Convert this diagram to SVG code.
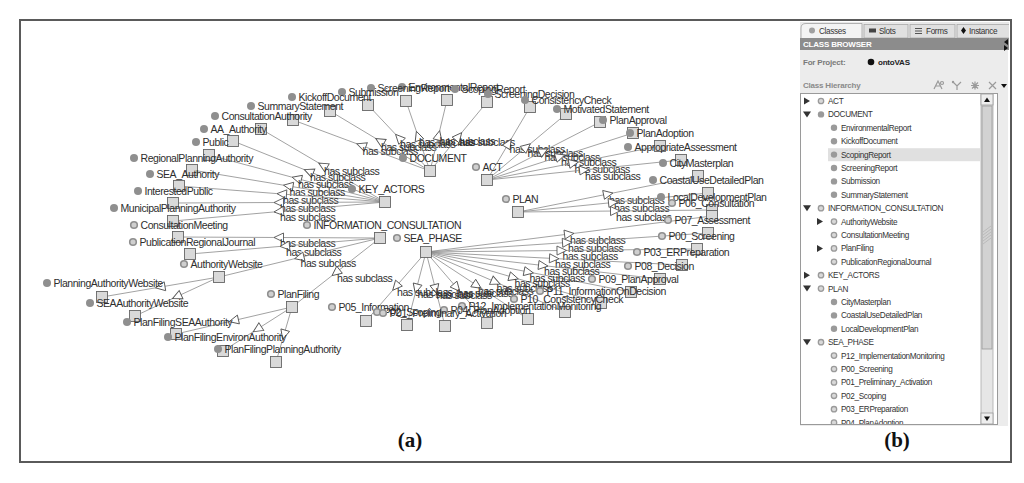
<svg xmlns="http://www.w3.org/2000/svg" width="1024" height="483" viewBox="0 0 1024 483">
<style>
.e{stroke:#8a8a8a;stroke-width:0.8;fill:none;marker-mid:url(#tri)}
.el,.nt{font-family:"Liberation Sans",Arial,sans-serif;font-size:10.5px;letter-spacing:-0.45px;fill:#2e2e2e}
.sq{fill:#d9d9d9;stroke:#666;stroke-width:0.9}
.df{fill:#8f8f8f}
.dr{fill:#cfcfcf;stroke:#8f8f8f;stroke-width:1.6}
.pt{font-family:"Liberation Sans",Arial,sans-serif;font-size:8.2px;letter-spacing:-0.35px;fill:#333}
.pb{font-family:"Liberation Sans",Arial,sans-serif;font-size:8px;font-weight:bold;letter-spacing:-0.2px}
.pf{fill:#9a9a9a}
.pr{fill:#d8d8d8;stroke:#9a9a9a;stroke-width:1.3}
.tr{fill:#333}
.ic{stroke:#9a9a9a;stroke-width:1.2;fill:none}
.tab{fill:#e0e0e0;stroke:#a8a8a8;stroke-width:0.8}
.cap{font-family:"Liberation Serif","Times New Roman",serif;font-size:21px;font-weight:bold;fill:#111;text-anchor:middle}
</style>
<defs>
<marker id="tri" markerUnits="userSpaceOnUse" markerWidth="14" markerHeight="14" viewBox="-7 -7 14 14" refX="0" refY="0" orient="auto"><path d="M5,0 L-4.5,-4.5 L-4.5,4.5 Z" fill="#fff" stroke="#555" stroke-width="0.9"/></marker>
<clipPath id="treeclip"><rect x="801" y="94" width="180" height="330"/></clipPath>
<clipPath id="tabclip"><rect x="800" y="20" width="209" height="32"/></clipPath>
</defs>
<rect x="0" y="0" width="1024" height="483" fill="#fff"/>
<rect x="20" y="20" width="991" height="442" fill="none" stroke="#5a5a5a" stroke-width="2"/>

<g id="connectors">
<path class="e" d="M430,171 L361.5,145.5 L293,120"/><text class="el" x="362.5" y="155">has subclass</text>
<path class="e" d="M430,171 L380,141 L330,111"/><text class="el" x="381" y="150.5">has subclass</text>
<path class="e" d="M430,171 L399,138 L368,105"/><text class="el" x="400" y="147.5">has subclass</text>
<path class="e" d="M430,171 L418,136 L406,101"/><text class="el" x="419" y="145.5">has subclass</text>
<path class="e" d="M430,171 L438.5,135.5 L447,100"/><text class="el" x="439.5" y="145">has subclass</text>
<path class="e" d="M430,171 L458.5,136.5 L487,102"/><text class="el" x="459.5" y="146">has subclass</text>

<path class="e" d="M385,202 L323,165.5 L261,129"/><text class="el" x="324" y="175">has subclass</text>
<path class="e" d="M385,202 L309,171.5 L233,141"/><text class="el" x="310" y="181">has subclass</text>
<path class="e" d="M385,202 L297,178.5 L209,155"/><text class="el" x="298" y="188">has subclass</text>
<path class="e" d="M385,202 L288.5,186 L192,170"/><text class="el" x="289.5" y="195.5">has subclass</text>
<path class="e" d="M385,202 L282,194 L179,186"/><text class="el" x="283" y="203.5">has subclass</text>
<path class="e" d="M385,202 L279,202.5 L173,203"/><text class="el" x="280" y="212">has subclass</text>
<path class="e" d="M385,202 L279,211.5 L173,221"/><text class="el" x="280" y="221">has subclass</text>

<path class="e" d="M380,238 L279,237.5 L178,237"/><text class="el" x="280" y="247">has subclass</text>
<path class="e" d="M380,238 L285,246 L190,254"/><text class="el" x="286" y="255.5">has subclass</text>
<path class="e" d="M380,238 L299.5,257.5 L219,277"/><text class="el" x="300.5" y="267">has subclass</text>
<path class="e" d="M380,238 L336,272.5 L292,307"/><text class="el" x="337" y="282">has subclass</text>

<path class="e" d="M219,277 L160.5,287 L102,297"/>
<path class="e" d="M219,277 L177,296.5 L135,316"/>
<path class="e" d="M292,307 L234,320.5 L176,334"/>
<path class="e" d="M292,307 L257.5,329 L223,351"/>
<path class="e" d="M292,307 L284,334.5 L276,362"/>

<path class="e" d="M487,180 L508.5,143.5 L530,107"/><text class="el" x="509.5" y="153">has subclass</text>
<path class="e" d="M487,180 L526.5,147 L566,114"/><text class="el" x="527.5" y="156.5">has subclass</text>
<path class="e" d="M487,180 L543.5,151 L600,122"/><text class="el" x="544.5" y="160.5">has subclass</text>
<path class="e" d="M487,180 L560,156.5 L633,133"/><text class="el" x="561" y="166">has subclass</text>
<path class="e" d="M487,180 L573.5,163 L660,146"/><text class="el" x="574.5" y="172.5">has subclass</text>
<path class="e" d="M487,180 L584,170 L681,160"/><text class="el" x="585" y="179.5">has subclass</text>

<path class="e" d="M518,212 L608,194 L698,176"/><text class="el" x="609" y="203.5">has subclass</text>
<path class="e" d="M518,212 L613,202.5 L708,193"/><text class="el" x="614" y="212">has subclass</text>
<path class="e" d="M518,212 L615,211 L712,210"/><text class="el" x="616" y="220.5">has subclass</text>

<path class="e" d="M426,252 L569,234 L712,216"/><text class="el" x="570" y="243.5">has subclass</text>
<path class="e" d="M426,252 L567,242.5 L708,233"/><text class="el" x="568" y="252">has subclass</text>
<path class="e" d="M426,252 L561.5,250.5 L697,249"/><text class="el" x="562.5" y="260">has subclass</text>
<path class="e" d="M426,252 L554,258.5 L682,265"/><text class="el" x="555" y="268">has subclass</text>
<path class="e" d="M426,252 L543,265.5 L660,279"/><text class="el" x="544" y="275">has subclass</text>
<path class="e" d="M426,252 L528.5,272 L631,292"/><text class="el" x="529.5" y="281.5">has subclass</text>
<path class="e" d="M426,252 L513.5,277.5 L601,303"/><text class="el" x="514.5" y="287">has subclass</text>
<path class="e" d="M426,252 L495.5,282 L565,312"/><text class="el" x="496.5" y="291.5">has subclass</text>
<path class="e" d="M426,252 L477,285.5 L528,319"/><text class="el" x="478" y="295">has subclass</text>
<path class="e" d="M426,252 L456.5,287.5 L487,323"/><text class="el" x="457.5" y="297">has subclass</text>
<path class="e" d="M426,252 L435.5,289 L445,326"/><text class="el" x="436.5" y="298.5">has subclass</text>
<path class="e" d="M426,252 L416.5,288.5 L407,325"/><text class="el" x="417.5" y="298">has subclass</text>
<path class="e" d="M426,252 L396,286.5 L366,321"/><text class="el" x="397" y="296">has subclass</text>
</g>

<g id="nodes">
<g id="n-EnvironmentalReport"><rect class="sq" x="441.5" y="94.5" width="11" height="11"/><circle class="df" cx="402" cy="87" r="4"/><text class="nt" x="408.5" y="90.7">EnvironmentalReport</text></g>
<g id="n-ScreeningReport"><rect class="sq" x="400.5" y="95.5" width="11" height="11"/><circle class="df" cx="371" cy="88" r="4"/><text class="nt" x="377.5" y="91.7">ScreeningReport</text></g>
<g id="n-ScopingReport"><rect class="sq" x="481.5" y="96.5" width="11" height="11"/><circle class="df" cx="455" cy="89" r="4"/><text class="nt" x="461.5" y="92.7">ScopingReport</text></g>
<g id="n-Submission"><rect class="sq" x="362.5" y="99.5" width="11" height="11"/><circle class="df" cx="342" cy="92" r="4"/><text class="nt" x="348.5" y="95.7">Submission</text></g>
<g id="n-ScreeningDecision"><rect class="sq" x="524.5" y="101.5" width="11" height="11"/><circle class="df" cx="488" cy="94" r="4"/><text class="nt" x="494.5" y="97.7">ScreeningDecision</text></g>
<g id="n-KickoffDocument"><rect class="sq" x="324.5" y="105.5" width="11" height="11"/><circle class="df" cx="292" cy="97" r="4"/><text class="nt" x="298.5" y="100.7">KickoffDocument</text></g>
<g id="n-ConsistencyCheck"><rect class="sq" x="560.5" y="108.5" width="11" height="11"/><circle class="df" cx="525" cy="100" r="4"/><text class="nt" x="531.5" y="103.7">ConsistencyCheck</text></g>
<g id="n-SummaryStatement"><rect class="sq" x="287.5" y="114.5" width="11" height="11"/><circle class="df" cx="251" cy="106" r="4"/><text class="nt" x="257.5" y="109.7">SummaryStatement</text></g>
<g id="n-MotivatedStatement"><rect class="sq" x="594.5" y="116.5" width="11" height="11"/><circle class="df" cx="557" cy="109" r="4"/><text class="nt" x="563.5" y="112.7">MotivatedStatement</text></g>
<g id="n-ConsultationAuthority"><rect class="sq" x="255.5" y="123.5" width="11" height="11"/><circle class="df" cx="215" cy="116" r="4"/><text class="nt" x="221.5" y="119.7">ConsultationAuthority</text></g>
<g id="n-PlanApproval"><rect class="sq" x="627.5" y="127.5" width="11" height="11"/><circle class="df" cx="603" cy="120" r="4"/><text class="nt" x="609.5" y="123.7">PlanApproval</text></g>
<g id="n-AA_Authority"><rect class="sq" x="227.5" y="135.5" width="11" height="11"/><circle class="df" cx="204" cy="129" r="4"/><text class="nt" x="210.5" y="132.7">AA_Authority</text></g>
<g id="n-PlanAdoption"><rect class="sq" x="654.5" y="140.5" width="11" height="11"/><circle class="df" cx="630" cy="133" r="4"/><text class="nt" x="636.5" y="136.7">PlanAdoption</text></g>
<g id="n-Public"><rect class="sq" x="203.5" y="149.5" width="11" height="11"/><circle class="df" cx="196" cy="142" r="4"/><text class="nt" x="202.5" y="145.7">Public</text></g>
<g id="n-AppropriateAssessment"><rect class="sq" x="675.5" y="154.5" width="11" height="11"/><circle class="df" cx="628" cy="147" r="4"/><text class="nt" x="634.5" y="150.7">AppropriateAssessment</text></g>
<g id="n-DOCUMENT"><rect class="sq" x="424.5" y="165.5" width="11" height="11"/><circle class="df" cx="403" cy="158" r="4"/><text class="nt" x="409.5" y="161.7">DOCUMENT</text></g>
<g id="n-RegionalPlanningAuthority"><rect class="sq" x="186.5" y="164.5" width="11" height="11"/><circle class="df" cx="134" cy="158" r="4"/><text class="nt" x="140.5" y="161.7">RegionalPlanningAuthority</text></g>
<g id="n-CityMasterplan"><rect class="sq" x="692.5" y="170.5" width="11" height="11"/><circle class="df" cx="663" cy="163" r="4"/><text class="nt" x="669.5" y="166.7">CityMasterplan</text></g>
<g id="n-ACT"><rect class="sq" x="481.5" y="174.5" width="11" height="11"/><circle class="dr" cx="476" cy="167" r="3.3"/><text class="nt" x="482.5" y="170.7">ACT</text></g>
<g id="n-SEA_Authority"><rect class="sq" x="173.5" y="180.5" width="11" height="11"/><circle class="df" cx="150" cy="174" r="4"/><text class="nt" x="156.5" y="177.7">SEA_Authority</text></g>
<g id="n-CoastalUseDetailedPlan"><rect class="sq" x="702.5" y="187.5" width="11" height="11"/><circle class="df" cx="653" cy="180" r="4"/><text class="nt" x="659.5" y="183.7">CoastalUseDetailedPlan</text></g>
<g id="n-KEY_ACTORS"><rect class="sq" x="379.5" y="196.5" width="11" height="11"/><circle class="df" cx="352" cy="189" r="4"/><text class="nt" x="358.5" y="192.7">KEY_ACTORS</text></g>
<g id="n-InterestedPublic"><rect class="sq" x="167.5" y="197.5" width="11" height="11"/><circle class="df" cx="138" cy="191" r="4"/><text class="nt" x="144.5" y="194.7">InterestedPublic</text></g>
<g id="n-LocalDevelopmentPlan"><rect class="sq" x="706.5" y="204.5" width="11" height="11"/><circle class="df" cx="661" cy="197" r="4"/><text class="nt" x="667.5" y="200.7">LocalDevelopmentPlan</text></g>
<g id="n-PLAN"><rect class="sq" x="512.5" y="206.5" width="11" height="11"/><circle class="dr" cx="506" cy="199" r="3.3"/><text class="nt" x="512.5" y="202.7">PLAN</text></g>
<g id="n-P06_Consultation"><rect class="sq" x="706.5" y="210.5" width="11" height="11"/><circle class="dr" cx="672" cy="203" r="3.3"/><text class="nt" x="678.5" y="206.7">P06_Consultation</text></g>
<g id="n-MunicipalPlanningAuthority"><rect class="sq" x="167.5" y="215.5" width="11" height="11"/><circle class="df" cx="114" cy="208" r="4"/><text class="nt" x="120.5" y="211.7">MunicipalPlanningAuthority</text></g>
<g id="n-P07_Assessment"><rect class="sq" x="702.5" y="227.5" width="11" height="11"/><circle class="dr" cx="668" cy="220" r="3.3"/><text class="nt" x="674.5" y="223.7">P07_Assessment</text></g>
<g id="n-INFORMATION_CONSULTATION"><rect class="sq" x="374.5" y="232.5" width="11" height="11"/><circle class="dr" cx="307" cy="225" r="3.3"/><text class="nt" x="313.5" y="228.7">INFORMATION_CONSULTATION</text></g>
<g id="n-ConsultationMeeting"><rect class="sq" x="172.5" y="231.5" width="11" height="11"/><circle class="dr" cx="134" cy="225" r="3.3"/><text class="nt" x="140.5" y="228.7">ConsultationMeeting</text></g>
<g id="n-P00_Screening"><rect class="sq" x="691.5" y="243.5" width="11" height="11"/><circle class="dr" cx="662" cy="236" r="3.3"/><text class="nt" x="668.5" y="239.7">P00_Screening</text></g>
<g id="n-SEA_PHASE"><rect class="sq" x="420.5" y="246.5" width="11" height="11"/><circle class="dr" cx="397" cy="238" r="3.3"/><text class="nt" x="403.5" y="241.7">SEA_PHASE</text></g>
<g id="n-PublicationRegionalJournal"><rect class="sq" x="184.5" y="248.5" width="11" height="11"/><circle class="dr" cx="133" cy="242" r="3.3"/><text class="nt" x="139.5" y="245.7">PublicationRegionalJournal</text></g>
<g id="n-P03_ERPreparation"><rect class="sq" x="676.5" y="259.5" width="11" height="11"/><circle class="dr" cx="637" cy="252" r="3.3"/><text class="nt" x="643.5" y="255.7">P03_ERPreparation</text></g>
<g id="n-AuthorityWebsite"><rect class="sq" x="213.5" y="271.5" width="11" height="11"/><circle class="dr" cx="184" cy="264" r="3.3"/><text class="nt" x="190.5" y="267.7">AuthorityWebsite</text></g>
<g id="n-P08_Decision"><rect class="sq" x="654.5" y="273.5" width="11" height="11"/><circle class="dr" cx="628" cy="266" r="3.3"/><text class="nt" x="634.5" y="269.7">P08_Decision</text></g>
<g id="n-P09_PlanApproval"><rect class="sq" x="625.5" y="286.5" width="11" height="11"/><circle class="dr" cx="592" cy="279" r="3.3"/><text class="nt" x="598.5" y="282.7">P09_PlanApproval</text></g>
<g id="n-PlanningAuthorityWebsite"><rect class="sq" x="96.5" y="291.5" width="11" height="11"/><circle class="df" cx="47" cy="283" r="4"/><text class="nt" x="53.5" y="286.7">PlanningAuthorityWebsite</text></g>
<g id="n-P11_InformationOnDecision"><rect class="sq" x="595.5" y="297.5" width="11" height="11"/><circle class="dr" cx="540" cy="291" r="3.3"/><text class="nt" x="546.5" y="294.7">P11_InformationOnDecision</text></g>
<g id="n-PlanFiling"><rect class="sq" x="286.5" y="301.5" width="11" height="11"/><circle class="dr" cx="271" cy="294" r="3.3"/><text class="nt" x="277.5" y="297.7">PlanFiling</text></g>
<g id="n-P10_ConsistencyCheck"><rect class="sq" x="559.5" y="306.5" width="11" height="11"/><circle class="dr" cx="514" cy="299" r="3.3"/><text class="nt" x="520.5" y="302.7">P10_ConsistencyCheck</text></g>
<g id="n-SEAAuthorityWebsite"><rect class="sq" x="129.5" y="310.5" width="11" height="11"/><circle class="df" cx="90" cy="303" r="4"/><text class="nt" x="96.5" y="306.7">SEAAuthorityWebsite</text></g>
<g id="n-P12_ImplementationMonitoring"><rect class="sq" x="522.5" y="313.5" width="11" height="11"/><circle class="dr" cx="462" cy="306" r="3.3"/><text class="nt" x="468.5" y="309.7">P12_ImplementationMonitoring</text></g>
<g id="n-P05_Information"><rect class="sq" x="360.5" y="315.5" width="11" height="11"/><circle class="dr" cx="332" cy="307" r="3.3"/><text class="nt" x="338.5" y="310.7">P05_Information</text></g>
<g id="n-P04_PlanAdoption"><rect class="sq" x="481.5" y="317.5" width="11" height="11"/><circle class="dr" cx="444" cy="310" r="3.3"/><text class="nt" x="450.5" y="313.7">P04_PlanAdoption</text></g>
<g id="n-P02_Scoping"><rect class="sq" x="401.5" y="319.5" width="11" height="11"/><circle class="dr" cx="377" cy="312" r="3.3"/><text class="nt" x="383.5" y="315.7">P02_Scoping</text></g>
<g id="n-P01_Preliminary_Activation"><rect class="sq" x="439.5" y="320.5" width="11" height="11"/><circle class="dr" cx="383" cy="313" r="3.3"/><text class="nt" x="389.5" y="316.7">P01_Preliminary_Activation</text></g>
<g id="n-PlanFilingSEAAuthority"><rect class="sq" x="170.5" y="328.5" width="11" height="11"/><circle class="df" cx="127" cy="322" r="4"/><text class="nt" x="133.5" y="325.7">PlanFilingSEAAuthority</text></g>
<g id="n-PlanFilingEnvironAuthority"><rect class="sq" x="217.5" y="345.5" width="11" height="11"/><circle class="df" cx="168" cy="337" r="4"/><text class="nt" x="174.5" y="340.7">PlanFilingEnvironAuthority</text></g>
<g id="n-PlanFilingPlanningAuthority"><rect class="sq" x="270.5" y="356.5" width="11" height="11"/><circle class="df" cx="218" cy="349" r="4"/><text class="nt" x="224.5" y="352.7">PlanFilingPlanningAuthority</text></g>
</g>

<g id="panel-b">
<rect x="800" y="22" width="208" height="404" fill="#ececec"/>
<g clip-path="url(#tabclip)">
<rect x="800" y="22" width="209" height="16" fill="#e8e8e8"/>
<path d="M801,38 L801,28 Q801,23.5 806,23.5 L862,23.5 L862,38" fill="#f3f3f3" stroke="#a0a0a0" stroke-width="0.8"/>
<circle cx="812" cy="30.5" r="3" fill="#a0a0a0"/>
<text class="pt" x="819" y="33.5">Classes</text>
<rect class="tab" x="864" y="24.5" width="44" height="13.5"/>
<rect x="869" y="28.5" width="7" height="4" fill="#444"/>
<text class="pt" x="879" y="33.5">Slots</text>
<rect class="tab" x="910" y="24.5" width="45" height="13.5"/>
<path d="M915,28.5 H922 M915,31 H922 M915,33.5 H922" stroke="#444" stroke-width="0.9"/>
<text class="pt" x="926" y="33.5">Forms</text>
<rect class="tab" x="957" y="24.5" width="54" height="13.5"/>
<path d="M963.5,27 L966,30.5 L963.5,34 L961,30.5 Z" fill="#111"/>
<text class="pt" x="969" y="33.5">Instance</text>
<rect x="800" y="38" width="209" height="12" fill="#8c8c8c"/>
<text class="pb" x="803" y="47" fill="#fff">CLASS BROWSER</text>
<path d="M1008,39 L1004,42 L1008,45 Z M1004,45 L1008,48 L1004,51 Z" fill="#111"/>
</g>
<text class="pb" x="803" y="65" fill="#7a7a7a">For Project:</text>
<circle cx="871" cy="62" r="3.3" fill="#111"/>
<text class="pb" x="878" y="65" fill="#222">ontoVAS</text>
<text class="pb" x="803" y="88" fill="#8a8a8a">Class Hierarchy</text>
<path class="ic" d="M934,89 L938,81 L942,89 M936,86 H940"/>
<circle cx="942" cy="83" r="1.5" class="ic"/>
<path class="ic" d="M953,82 L957,86 L961,82 M957,86 V90"/>
<circle cx="953" cy="82" r="1.2" fill="#9a9a9a"/>
<path class="ic" d="M971,85.5 H979 M975,81.5 V89.5 M972,82.5 L978,88.5 M978,82.5 L972,88.5"/>
<path class="ic" d="M989,82 L996,89 M996,82 L989,89"/>
<path d="M1001,84 L1007,84 L1004,88 Z" fill="#111"/>
<rect x="800.5" y="93.5" width="197" height="331" fill="#fff" stroke="#9a9a9a" stroke-width="1"/>
<rect x="828" y="148.2" width="152" height="13" fill="#e0e0e0"/>
<g clip-path="url(#treeclip)">
<path class="tr" d="M804,97.5 L804,104.5 L810,101 Z"/><circle class="pr" cx="821" cy="101" r="2.7"/><text class="pt" x="828" y="104">ACT</text>
<path class="tr" d="M803,111.4 L811,111.4 L807,117.4 Z"/><circle class="pf" cx="821" cy="114.4" r="3.2"/><text class="pt" x="828" y="117.4">DOCUMENT</text>
<circle class="pf" cx="834" cy="127.8" r="3.2"/><text class="pt" x="841" y="130.8">EnvironmentalReport</text>
<circle class="pf" cx="834" cy="141.2" r="3.2"/><text class="pt" x="841" y="144.2">KickoffDocument</text>
<circle class="pf" cx="834" cy="154.6" r="3.2"/><text class="pt" x="841" y="157.6">ScopingReport</text>
<circle class="pf" cx="834" cy="168" r="3.2"/><text class="pt" x="841" y="171">ScreeningReport</text>
<circle class="pf" cx="834" cy="181.4" r="3.2"/><text class="pt" x="841" y="184.4">Submission</text>
<circle class="pf" cx="834" cy="194.8" r="3.2"/><text class="pt" x="841" y="197.8">SummaryStatement</text>
<path class="tr" d="M803,205.2 L811,205.2 L807,211.2 Z"/><circle class="pr" cx="821" cy="208.2" r="2.7"/><text class="pt" x="828" y="211.2">INFORMATION_CONSULTATION</text>
<path class="tr" d="M817,218.1 L817,225.1 L823,221.6 Z"/><circle class="pr" cx="834" cy="221.6" r="2.7"/><text class="pt" x="841" y="224.6">AuthorityWebsite</text>
<circle class="pr" cx="834" cy="235" r="2.7"/><text class="pt" x="841" y="238">ConsultationMeeting</text>
<path class="tr" d="M817,244.9 L817,251.9 L823,248.4 Z"/><circle class="pr" cx="834" cy="248.4" r="2.7"/><text class="pt" x="841" y="251.4">PlanFiling</text>
<circle class="pr" cx="834" cy="261.8" r="2.7"/><text class="pt" x="841" y="264.8">PublicationRegionalJournal</text>
<path class="tr" d="M804,271.7 L804,278.7 L810,275.2 Z"/><circle class="pr" cx="821" cy="275.2" r="2.7"/><text class="pt" x="828" y="278.2">KEY_ACTORS</text>
<path class="tr" d="M803,285.6 L811,285.6 L807,291.6 Z"/><circle class="pr" cx="821" cy="288.6" r="2.7"/><text class="pt" x="828" y="291.6">PLAN</text>
<circle class="pf" cx="834" cy="302" r="3.2"/><text class="pt" x="841" y="305">CityMasterplan</text>
<circle class="pf" cx="834" cy="315.4" r="3.2"/><text class="pt" x="841" y="318.4">CoastalUseDetailedPlan</text>
<circle class="pf" cx="834" cy="328.8" r="3.2"/><text class="pt" x="841" y="331.8">LocalDevelopmentPlan</text>
<path class="tr" d="M803,339.2 L811,339.2 L807,345.2 Z"/><circle class="pr" cx="821" cy="342.2" r="2.7"/><text class="pt" x="828" y="345.2">SEA_PHASE</text>
<circle class="pr" cx="834" cy="355.6" r="2.7"/><text class="pt" x="841" y="358.6">P12_ImplementationMonitoring</text>
<circle class="pr" cx="834" cy="369" r="2.7"/><text class="pt" x="841" y="372">P00_Screening</text>
<circle class="pr" cx="834" cy="382.4" r="2.7"/><text class="pt" x="841" y="385.4">P01_Preliminary_Activation</text>
<circle class="pr" cx="834" cy="395.8" r="2.7"/><text class="pt" x="841" y="398.8">P02_Scoping</text>
<circle class="pr" cx="834" cy="409.2" r="2.7"/><text class="pt" x="841" y="412.2">P03_ERPreparation</text>
<circle class="pr" cx="834" cy="422.6" r="2.7"/><text class="pt" x="841" y="425.6">P04_PlanAdoption</text>
</g>
<rect x="981" y="94" width="12" height="330" fill="#e6e6e6" stroke="#aaa" stroke-width="0.8"/>
<rect x="981" y="94" width="12" height="11" fill="#eee" stroke="#999" stroke-width="0.8"/>
<path d="M984,102 L990,102 L987,97.5 Z" fill="#111"/>
<rect x="982" y="106" width="10" height="243" fill="#d2d2d2" stroke="#999" stroke-width="0.8"/>
<path d="M983,232 L991,226 M983,235 L991,229 M983,238 L991,232 M983,241 L991,235 M983,244 L991,238" stroke="#aaa" stroke-width="0.6"/>
<rect x="981" y="413" width="12" height="11" fill="#eee" stroke="#999" stroke-width="0.8"/>
<path d="M984,416.5 L990,416.5 L987,421 Z" fill="#111"/>
</g>

<text class="cap" x="410" y="447">(a)</text>
<text class="cap" x="897" y="447">(b)</text>
</svg>
